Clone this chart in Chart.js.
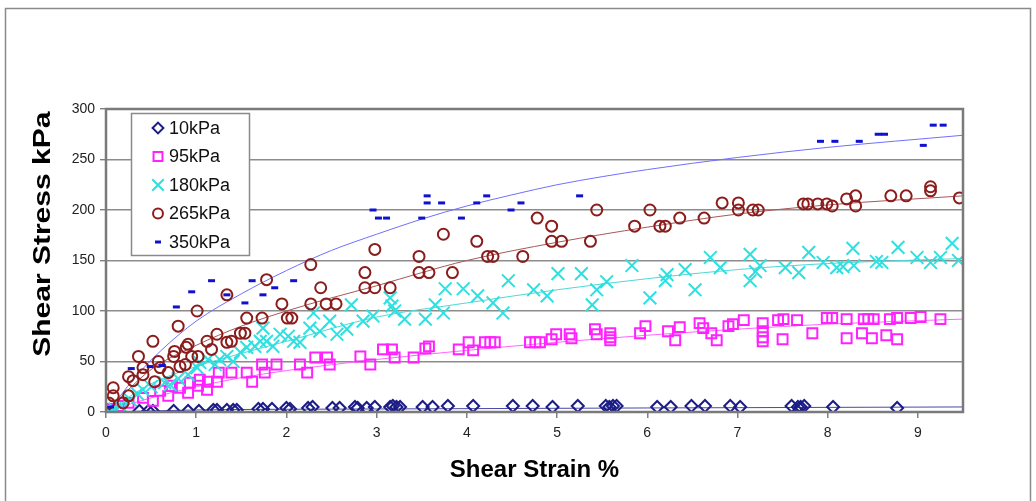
<!DOCTYPE html>
<html>
<head>
<meta charset="utf-8">
<script src="https://cdn.jsdelivr.net/npm/chart.js@4.4.1/dist/chart.umd.min.js"></script>
<style>
  html, body { margin: 0; padding: 0; background: #ffffff; }
  canvas { display: block; }
</style>
</head>
<body>
<canvas id="chart" width="1036" height="501"></canvas>
<script>
// Shear strain (%) / shear stress (kPa) readings for each normal stress
const labels = ['10kPa', '95kPa', '180kPa', '265kPa', '350kPa'];

const points10 = [
  [0.08,0],[0.37,1],[0.47,1],[0.52,1],[0.75,1],[0.91,1],[1.03,1],[1.19,2],[1.23,2],[1.34,2],
  [1.41,2],[1.45,2],[1.69,3],[1.74,3],[1.84,3],[2.00,4],[2.04,3],[2.24,4],[2.29,5],[2.51,4],
  [2.59,4],[2.76,5],[2.79,4],[2.89,4],[2.98,5],[3.15,5],[3.18,6],[3.22,5],[3.26,5],[3.51,5],
  [3.62,5],[3.79,6],[4.07,6],[4.51,6],[4.73,6],[4.95,5],[5.23,6],[5.54,6],[5.58,5],[5.62,6],
  [5.66,6],[6.11,5],[6.26,5],[6.49,6],[6.64,6],[6.92,6],[7.03,5],[7.60,6],[7.67,5],[7.70,5],
  [7.74,6],[8.06,5],[8.77,4]
];

const points95 = [
  [0.05,3],[0.15,6],[0.25,9],[0.41,14],[0.52,11],[0.60,21],[0.69,16],[0.73,26],[0.82,24],[0.91,19],
  [0.93,29],[1.02,26],[1.04,32],[1.12,22],[1.13,30],[1.23,30],[1.25,39],[1.39,39],[1.56,39],[1.62,30],
  [1.73,47],[1.76,39],[1.89,47],[2.15,47],[2.23,39],[2.32,54],[2.45,54],[2.48,47],[2.82,55],[2.93,47],
  [3.07,62],[3.17,62],[3.20,54],[3.41,54],[3.54,63],[3.58,65],[3.91,62],[4.02,69],[4.07,61],[4.20,69],
  [4.26,69],[4.31,69],[4.70,69],[4.76,69],[4.81,69],[4.94,72],[4.99,77],[5.14,77],[5.16,73],[5.42,82],
  [5.44,77],[5.59,78],[5.59,74],[5.59,71],[5.92,78],[5.98,85],[6.23,80],[6.31,71],[6.36,84],[6.58,88],
  [6.62,83],[6.71,78],[6.77,71],[6.90,85],[6.95,87],[7.07,91],[7.28,88],[7.28,80],[7.28,74],[7.28,70],
  [7.45,91],[7.51,92],[7.50,72],[7.66,91],[7.83,78],[7.99,93],[8.05,93],[8.21,92],[8.21,73],[8.38,78],
  [8.40,92],[8.45,92],[8.49,73],[8.51,92],[8.65,76],[8.69,92],[8.77,93],[8.77,72],[8.92,93],[9.03,94],
  [9.25,92]
];

const points180 = [
  [0.04,0],[0.10,3],[0.16,6],[0.27,12],[0.35,18],[0.41,22],[0.50,25],[0.65,29],[0.71,27],[0.80,33],
  [0.91,37],[1.01,44],[1.04,49],[1.13,52],[1.21,47],[1.26,52],[1.34,55],[1.41,50],[1.49,59],[1.56,64],
  [1.65,65],[1.71,70],[1.74,83],[1.78,70],[1.85,65],[1.93,77],[2.02,75],[2.08,70],[2.15,69],[2.26,83],
  [2.30,98],[2.37,80],[2.48,90],[2.56,77],[2.67,82],[2.72,106],[2.85,90],[2.96,95],[3.15,113],[3.17,105],
  [3.20,100],[3.31,92],[3.54,92],[3.65,106],[3.74,98],[3.76,122],[3.96,122],[4.12,115],[4.29,108],[4.40,98],
  [4.46,130],[4.74,121],[4.89,115],[5.01,137],[5.27,137],[5.39,106],[5.44,121],[5.55,129],[5.83,145],[6.03,113],
  [6.20,130],[6.22,136],[6.42,141],[6.53,121],[6.70,153],[6.81,143],[7.14,156],[7.14,130],[7.20,139],[7.25,145],
  [7.53,143],[7.68,138],[7.79,158],[7.95,148],[8.10,143],[8.17,144],[8.28,162],[8.29,145],[8.54,149],[8.60,148],
  [8.78,163],[8.99,153],[9.14,148],[9.25,153],[9.38,167],[9.45,150]
];

const points265 = [
  [0.03,9],[0.08,16],[0.08,24],[0.19,9],[0.25,16],[0.25,35],[0.30,31],[0.36,55],[0.41,44],[0.41,37],
  [0.52,70],[0.54,30],[0.58,50],[0.60,44],[0.69,39],[0.75,55],[0.76,60],[0.80,85],[0.82,45],[0.88,47],
  [0.89,64],[0.91,67],[0.95,55],[1.01,100],[1.02,55],[1.12,70],[1.17,62],[1.23,77],[1.34,116],[1.34,69],
  [1.39,70],[1.49,78],[1.54,78],[1.56,93],[1.73,93],[1.78,131],[1.95,107],[2.01,93],[2.06,93],[2.27,146],
  [2.27,107],[2.38,123],[2.44,107],[2.55,107],[2.87,138],[2.87,123],[2.98,161],[2.98,123],[3.15,123],[3.47,154],
  [3.47,138],[3.58,138],[3.74,176],[3.84,138],[4.11,169],[4.23,154],[4.29,154],[4.62,154],[4.78,192],[4.94,184],
  [4.94,169],[5.05,169],[5.37,169],[5.44,200],[5.86,184],[6.03,200],[6.14,184],[6.20,184],[6.36,192],[6.63,192],
  [6.83,207],[7.01,207],[7.01,200],[7.17,200],[7.23,200],[7.73,206],[7.78,206],[7.89,206],[7.99,206],[8.05,204],
  [8.21,211],[8.31,214],[8.31,204],[8.70,214],[8.87,214],[9.14,223],[9.14,219],[9.46,212]
];

const points350 = [
  [0.05,5],[0.28,43],[0.49,45],[0.62,46],[0.78,104],[0.95,119],[1.17,130],[1.34,116],[1.54,108],[1.62,130],
  [1.74,116],[1.87,123],[2.08,130],[2.96,200],[3.02,192],[3.11,192],[3.50,192],[3.56,214],[3.56,207],[3.72,207],
  [3.94,192],[4.11,207],[4.22,214],[4.49,200],[4.60,207],[5.25,214],[7.92,268],[8.08,268],[8.35,268],[8.56,275],
  [8.63,275],[9.06,264],[9.17,284],[9.28,284]
];

// Trend curves through each series
const trend10  = [[0,0],[1,2],[3,3],[6,4],[9.5,5]];
const trend95  = [[0.05,2],[0.5,14],[1.0,25],[1.5,34],[2.0,41],[3.0,52],[4.0,61],[5.0,69],[6.0,76],[7.0,82],[8.0,87],[9.5,92]];
const trend180 = [[0.05,3],[0.5,28],[1.0,45],[1.5,58],[2.0,70],[3.0,94],[4.0,108],[5.0,121],[6.0,132],[7.0,141],[8.0,147],[9.5,152]];
const trend265 = [[0.05,5],[0.5,42],[1.0,66],[1.5,85],[2.0,100],[2.5,113],[3.0,125],[3.5,138],[4.0,150],[5.0,168],[6.0,183],[7.0,196],[8.0,205],[9.5,214]];
const trend350 = [[0.05,3],[0.3,32],[0.6,60],[1.0,90],[1.5,117],[2.0,140],[2.5,160],[3.0,176],[3.5,191],[4.0,204],[4.5,215],[5.0,225],[5.5,233],[6.0,240],[7.0,252],[8.0,262],[9.5,274]];

const xTicks = [0, 1, 2, 3, 4, 5, 6, 7, 8, 9];
const yTicks = [0, 50, 100, 150, 200, 250, 300];
const xTitle = 'Shear Strain %';
const yTitle = 'Shear Stress kPa';

const FONT = 'Arial, "Liberation Sans", Helvetica, sans-serif';
const toXY = arr => arr.map(p => ({ x: p[0], y: p[1] }));

const markerSets = [
  { data: points10,  color: '#1c1c86', style: 'rectRot',  radius: 6,   width: 2 },
  { data: points95,  color: '#ff22ff', style: 'rect',     radius: 7,   width: 2 },
  { data: points180, color: '#2ee0e0', style: 'crossRot', radius: 9,   width: 2 },
  { data: points265, color: '#8b1c1c', style: 'circle',   radius: 5.5, width: 2 },
  { data: points350, color: '#1010d0', style: 'line',     radius: 3.5, width: 3 }
];
const trendSets = [
  { data: trend10,  color: '#4848a8' },
  { data: trend95,  color: '#ff66ff' },
  { data: trend180, color: '#50d8d8' },
  { data: trend265, color: '#a85858' },
  { data: trend350, color: '#7070ff' }
];

const datasets = [];
trendSets.forEach((t, i) => {
  datasets.push({
    label: labels[i] + ' trend',
    data: toXY(t.data),
    showLine: true,
    borderColor: t.color,
    borderWidth: 1,
    pointRadius: 0,
    pointHoverRadius: 0,
    cubicInterpolationMode: 'monotone',
    fill: false,
    order: 10
  });
});
markerSets.forEach((m, i) => {
  datasets.push({
    label: labels[i],
    data: toXY(m.data),
    showLine: false,
    pointStyle: m.style,
    pointRadius: m.radius,
    pointHoverRadius: m.radius,
    pointBorderWidth: m.width,
    borderColor: m.color,
    backgroundColor: 'rgba(0,0,0,0)',
    pointBackgroundColor: 'rgba(0,0,0,0)',
    order: 5 - i
  });
});

const framePlugin = {
  id: 'frameAndLegend',
  beforeDraw(chart) {
    const ctx = chart.ctx;
    ctx.save();
    ctx.fillStyle = '#ffffff';
    ctx.fillRect(0, 0, chart.width, chart.height);
    ctx.strokeStyle = '#8a8a8a';
    ctx.lineWidth = 1.5;
    ctx.strokeRect(5.5, 8.5, 1025, 520);
    ctx.restore();
  },
  afterDatasetsDraw(chart) {
    const ctx = chart.ctx;
    const a = chart.chartArea;
    ctx.save();
    // plot area frame
    ctx.strokeStyle = '#7a7a7a';
    ctx.lineWidth = 2.5;
    ctx.strokeRect(a.left, a.top, a.right - a.left, a.bottom - a.top);

    // legend box
    const lx = 131, ly = 113, lw = 118, lh = 142;
    ctx.fillStyle = '#ffffff';
    ctx.fillRect(lx, ly, lw, lh);
    ctx.strokeStyle = '#8a8a8a';
    ctx.lineWidth = 1.5;
    ctx.strokeRect(lx + 0.5, ly + 0.5, lw, lh);
    ctx.font = '18px ' + FONT;
    ctx.textBaseline = 'middle';
    ctx.textAlign = 'left';
    markerSets.forEach((m, i) => {
      const y = 128 + i * 28.5;
      ctx.strokeStyle = m.color;
      ctx.fillStyle = 'rgba(0,0,0,0)';
      ctx.lineWidth = m.width;
      Chart.helpers.drawPoint(ctx, {
        pointStyle: m.style,
        radius: m.style === 'line' ? 3 : m.radius * 0.9,
        rotation: 0,
        borderWidth: m.width
      }, 158, y);
      ctx.fillStyle = '#111111';
      ctx.fillText(labels[i], 169, y + 1);
    });

    // vertical axis title, set in a tall, slightly condensed bold face
    const yScale = chart.scales.y;
    ctx.translate(43, (yScale.top + yScale.getPixelForValue(50)) / 2 - 1);
    ctx.scale(0.82, 1);
    ctx.rotate(-Math.PI / 2);
    ctx.font = 'bold 30px ' + FONT;
    ctx.fillStyle = '#000000';
    ctx.textAlign = 'center';
    ctx.textBaseline = 'middle';
    ctx.fillText(yTitle, 0, 0);
    ctx.restore();
  }
};

new Chart(document.getElementById('chart'), {
  type: 'scatter',
  data: { datasets },
  options: {
    responsive: false,
    animation: false,
    devicePixelRatio: 1,
    layout: { padding: { top: 109, right: 73, bottom: 0, left: 0 } },
    plugins: {
      legend: { display: false },
      tooltip: { enabled: false }
    },
    scales: {
      x: {
        type: 'linear',
        min: 0,
        max: 9.5,
        afterFit: s => { s.height = 89; },
        afterBuildTicks: s => { s.ticks = xTicks.map(v => ({ value: v })); },
        ticks: {
          color: '#222222',
          font: { family: FONT, size: 14 },
          padding: 7,
          maxRotation: 0
        },
        grid: {
          drawOnChartArea: false,
          color: '#808080',
          tickColor: '#808080',
          tickLength: 6,
          lineWidth: 1.5
        },
        border: { display: false },
        title: {
          display: true,
          text: xTitle,
          color: '#000000',
          font: { family: FONT, size: 24, weight: 'bold' },
          padding: { top: 0, bottom: 16 }
        }
      },
      y: {
        type: 'linear',
        min: 0,
        max: 300,
        afterFit: s => { s.width = 106; },
        afterBuildTicks: s => { s.ticks = yTicks.map(v => ({ value: v })); },
        ticks: {
          color: '#222222',
          font: { family: FONT, size: 14 },
          padding: 5
        },
        grid: {
          color: '#8c8c8c',
          tickColor: '#808080',
          tickLength: 6,
          lineWidth: 1.4
        },
        border: { display: false },
        title: { display: false }
      }
    }
  },
  plugins: [framePlugin]
});
</script>
</body>
</html>
